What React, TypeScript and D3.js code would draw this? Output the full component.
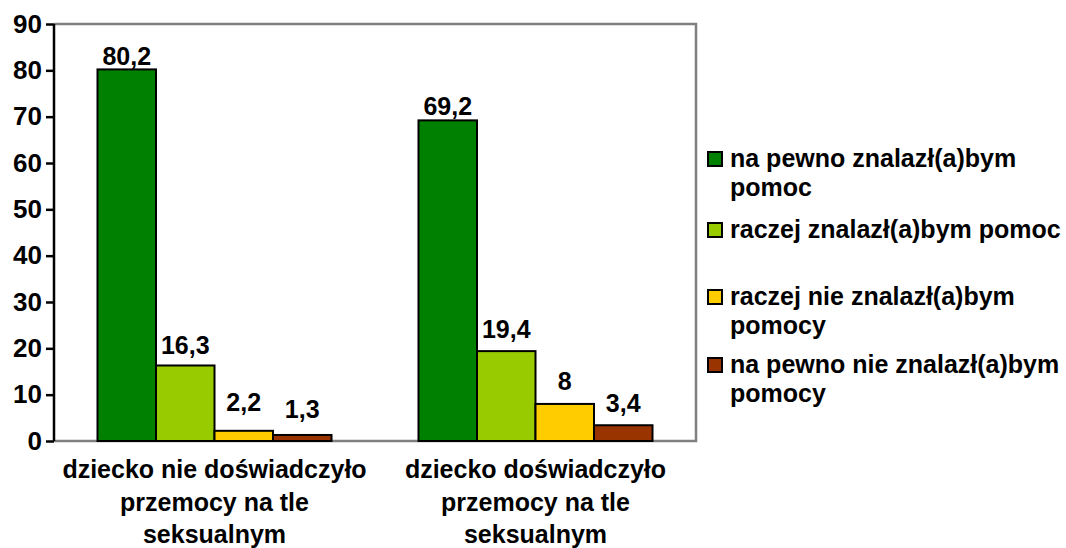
import { useEffect, useRef } from "react";
import * as d3 from "d3";

const width = 1066;
const height = 548;
const margin = { top: 24, right: 370, bottom: 107, left: 54 };

const categories = [
  ["dziecko nie doświadczyło", "przemocy na tle", "seksualnym"],
  ["dziecko doświadczyło", "przemocy na tle", "seksualnym"],
];
const seriesNames = [
  ["na pewno znalazł(a)bym", "pomoc"],
  ["raczej znalazł(a)bym pomoc"],
  ["raczej nie znalazł(a)bym", "pomocy"],
  ["na pewno nie znalazł(a)bym", "pomocy"],
];
const seriesColors = ["#008000", "#99CC00", "#FFCC00", "#993300"];
const values = [
  [80.2, 16.3, 2.2, 1.3],
  [69.2, 19.4, 8, 3.4],
];
const labels = [
  ["80,2", "16,3", "2,2", "1,3"],
  ["69,2", "19,4", "8", "3,4"],
];
const yTicks = [0, 10, 20, 30, 40, 50, 60, 70, 80, 90];

// layout tweaks (px): legend item tops and label lift above each bar
const legendY = [152, 223, 290, 358];
const labelLift = [
  [4, 11, 20, 17],
  [5, 13, 14, 13],
];

const font = "'Liberation Sans', Arial, sans-serif";

function App() {
  const ref = useRef(null);

  useEffect(() => {
    const root = d3.select(ref.current);
    root.selectAll("svg").remove();
    const svg = root
      .append("svg")
      .attr("width", width)
      .attr("height", height)
      .style("position", "fixed")
      .style("left", 0)
      .style("top", 0)
      .style("background", "#fff");

    const w = width - margin.left - margin.right;
    const h = height - margin.top - margin.bottom;

    const x0 = d3
      .scaleBand()
      .domain(categories.map((d, i) => String(i)))
      .range([0, w])
      .paddingInner(0.271)
      .paddingOuter(0.1355);
    const x1 = d3
      .scaleBand()
      .domain(seriesNames.map((d, i) => String(i)))
      .range([0, x0.bandwidth()]);
    const y = d3.scaleLinear().domain([0, 90]).range([h, 0]);

    const g = svg
      .append("g")
      .attr("transform", "translate(" + margin.left + "," + margin.top + ")");

    // plot area frame (grey)
    g.append("path")
      .attr("d", `M0,0H${w}V${h}H0`)
      .attr("fill", "none")
      .attr("stroke", "#808080")
      .attr("stroke-width", 2.5);

    // bars
    values.forEach((row, ci) => {
      const gg = g.append("g").attr("transform", `translate(${x0(String(ci))},0)`);
      row.forEach((v, si) => {
        gg.append("rect")
          .attr("x", x1(String(si)))
          .attr("y", y(v))
          .attr("width", x1.bandwidth())
          .attr("height", h - y(v))
          .attr("fill", seriesColors[si])
          .attr("stroke", "#000")
          .attr("stroke-width", 2);
        gg.append("text")
          .attr("x", x1(String(si)) + x1.bandwidth() / 2)
          .attr("y", y(v) - labelLift[ci][si])
          .attr("text-anchor", "middle")
          .attr("font-family", font)
          .attr("font-weight", "bold")
          .attr("font-size", 25)
          .text(labels[ci][si]);
      });
    });

    // y axis
    const yAxis = g
      .append("g")
      .call(d3.axisLeft(y).tickValues(yTicks).tickSize(8).tickPadding(4));
    yAxis.select(".domain").attr("stroke", "#000").attr("stroke-width", 2.5).attr("d", `M0,0V${h}`);
    yAxis.selectAll(".tick line").attr("stroke", "#000").attr("stroke-width", 2.5);
    yAxis
      .selectAll(".tick text")
      .attr("font-family", font)
      .attr("font-weight", "bold")
      .attr("font-size", 26)
      .attr("fill", "#000");

    // category labels
    categories.forEach((lines, ci) => {
      const t = g
        .append("text")
        .attr("text-anchor", "middle")
        .attr("font-family", font)
        .attr("font-weight", "bold")
        .attr("font-size", 25)
        .attr("x", x0(String(ci)) + x0.bandwidth() / 2)
        .attr("y", h + 37);
      lines.forEach((l, li) => {
        t.append("tspan")
          .attr("x", x0(String(ci)) + x0.bandwidth() / 2)
          .attr("dy", li === 0 ? 0 : 32.5)
          .text(l);
      });
    });

    // legend
    const lg = svg.append("g");
    seriesNames.forEach((lines, si) => {
      lg.append("rect")
        .attr("x", 708)
        .attr("y", legendY[si])
        .attr("width", 14)
        .attr("height", 14)
        .attr("fill", seriesColors[si])
        .attr("stroke", "#000")
        .attr("stroke-width", 2);
      const t = lg
        .append("text")
        .attr("font-family", font)
        .attr("font-weight", "bold")
        .attr("font-size", 25)
        .attr("x", 730)
        .attr("y", legendY[si] + 15);
      lines.forEach((l, li) => {
        t.append("tspan")
          .attr("x", 730)
          .attr("dy", li === 0 ? 0 : 29)
          .text(l);
      });
    });
  }, []);

  return <div ref={ref} />;
}

export default App;
